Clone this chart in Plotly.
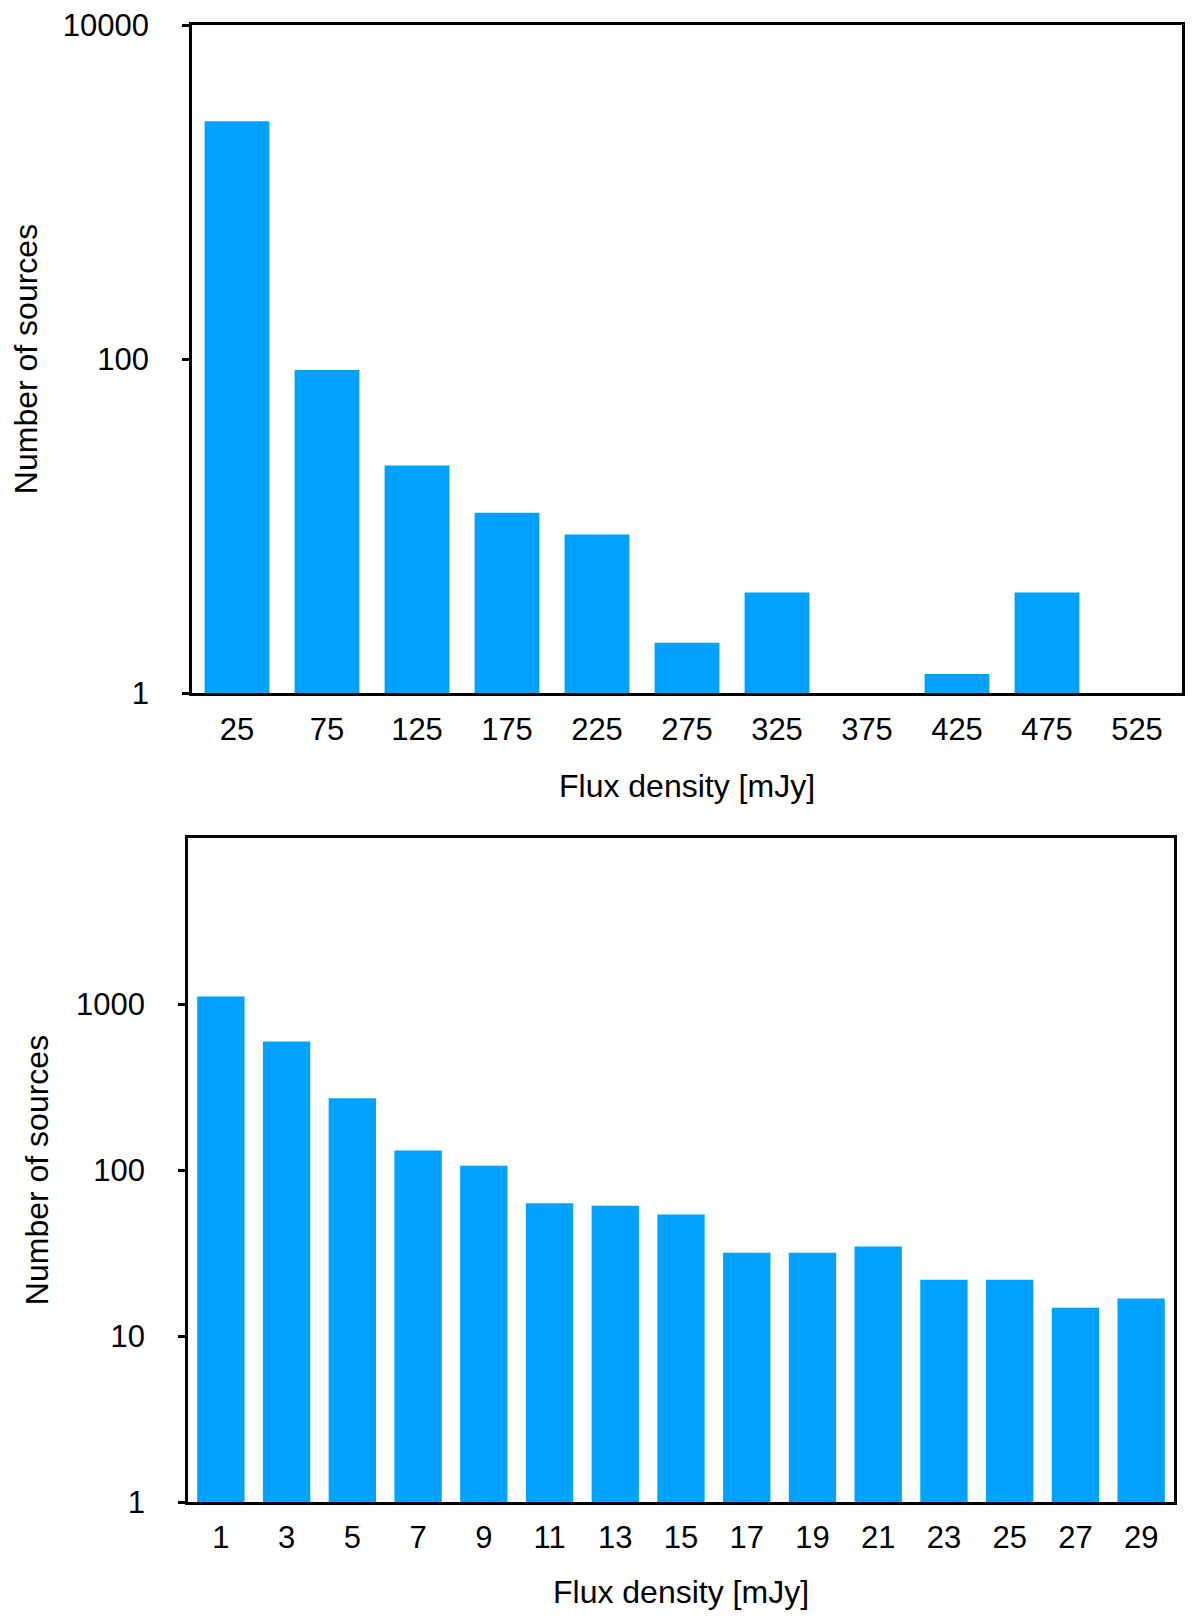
import plotly.graph_objects as go

# top panel: bins of 50 mJy
flux_wide = ["25", "75", "125", "175", "225", "275", "325", "375", "425", "475", "525"]
count_wide = [2650, 86, 23, 12, 8.9, 2, 4, None, 1.3, 4, None]

# bottom panel: bins of 2 mJy
flux_narrow = ["1", "3", "5", "7", "9", "11", "13", "15", "17", "19", "21", "23", "25", "27", "29"]
count_narrow = [1110, 595, 271, 131, 106, 63, 61, 54, 31.7, 31.7, 34.6, 21.8, 21.8, 14.8, 16.8]

bar_color = "#00A2FF"
font_name = "Liberation Sans, Arial, Helvetica, sans-serif"

fig = go.Figure()

fig.add_trace(go.Bar(x=flux_wide, y=count_wide, marker_color=bar_color,
                     marker_line_width=0, xaxis="x", yaxis="y"))
fig.add_trace(go.Bar(x=flux_narrow, y=count_narrow, marker_color=bar_color,
                     marker_line_width=0, xaxis="x2", yaxis="y2"))

W, H = 1200, 1623
PAGE_OFFSET = 8  # default body margin of the html page

def xdom(left, right):
    return [(left - PAGE_OFFSET) / W, (right - PAGE_OFFSET) / W]

def ydom(top, bottom):
    return [1 - (bottom - PAGE_OFFSET) / H, 1 - (top - PAGE_OFFSET) / H]

frame = dict(showline=True, mirror=True, linecolor="black", linewidth=2.5,
             showgrid=False, zeroline=False, automargin=False,
             ticklabeloverflow="allow",
             tickfont=dict(size=31, color="black"))

fig.update_layout(
    width=W, height=H,
    margin=dict(l=0, r=0, t=0, b=0),
    paper_bgcolor="white", plot_bgcolor="white",
    font=dict(family=font_name, color="black", size=31),
    showlegend=False,
    bargap=0.28,
    xaxis=dict(domain=xdom(192, 1182), anchor="y", type="category", ticks="",
               ticklabelstandoff=7,
               title=dict(text="Flux density [mJy]", font=dict(size=32), standoff=29),
               **frame),
    yaxis=dict(domain=ydom(25, 693), anchor="x", type="log", range=[0, 4],
               tickvals=[1, 100, 10000], ticktext=["1", "100", "10000"],
               ticks="outside", ticklen=7, tickwidth=2.5, tickcolor="black",
               ticklabelstandoff=27,
               title=dict(text="Number of sources", font=dict(size=32), standoff=29),
               **frame),
    xaxis2=dict(domain=xdom(188, 1174), anchor="y2", type="category", ticks="",
                ticklabelstandoff=6,
                title=dict(text="Flux density [mJy]", font=dict(size=32), standoff=27),
                **frame),
    yaxis2=dict(domain=ydom(838, 1502), anchor="x2", type="log", range=[0, 4],
                tickvals=[1, 10, 100, 1000], ticktext=["1", "10", "100", "1000"],
                ticks="outside", ticklen=7, tickwidth=2.5, tickcolor="black",
                ticklabelstandoff=27,
                title=dict(text="Number of sources", font=dict(size=32), standoff=18),
                **frame),
)

fig.write_html("out.html")
